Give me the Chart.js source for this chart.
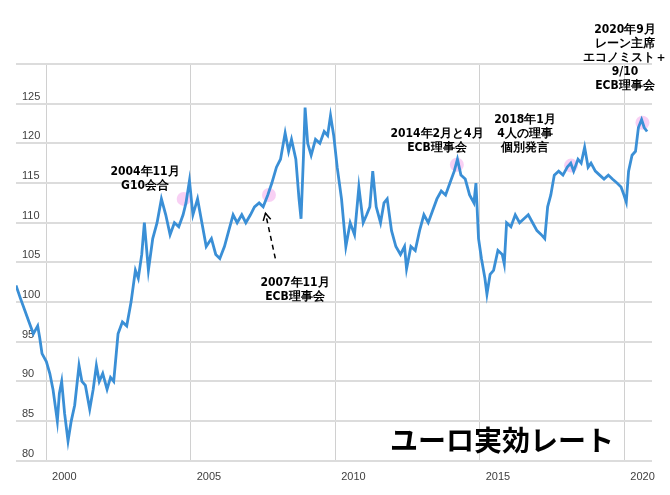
<!DOCTYPE html>
<html><head><meta charset="utf-8">
<script src="https://cdn.jsdelivr.net/npm/chart.js@4"></script>
<style>html,body{margin:0;padding:0;background:#fff}#w{width:670px;height:495px}</style>
</head><body><div id="w"><canvas id="c"></canvas></div>
<script>
const years=[1998.95,1999.1,1999.25,1999.4,1999.55,1999.7,1999.77,1999.85,2000.0,2000.12,2000.23,2000.38,2000.45,2000.53,2000.63,2000.75,2000.86,2000.98,2001.13,2001.23,2001.35,2001.5,2001.62,2001.73,2001.83,2001.95,2002.1,2002.22,2002.33,2002.48,2002.63,2002.78,2002.93,2003.08,2003.18,2003.3,2003.39,2003.53,2003.68,2003.83,2003.98,2004.13,2004.28,2004.43,2004.58,2004.73,2004.83,2004.95,2005.07,2005.23,2005.38,2005.53,2005.71,2005.86,2006.0,2006.16,2006.31,2006.46,2006.6,2006.76,2006.9,2007.06,2007.2,2007.36,2007.5,2007.66,2007.8,2007.96,2008.1,2008.26,2008.38,2008.48,2008.63,2008.74,2008.81,2008.89,2008.95,2009.04,2009.16,2009.31,2009.46,2009.61,2009.73,2009.83,2009.94,2010.06,2010.21,2010.36,2010.51,2010.66,2010.81,2010.96,2011.08,2011.19,2011.29,2011.41,2011.56,2011.68,2011.79,2011.94,2012.09,2012.25,2012.39,2012.46,2012.61,2012.76,2012.91,2013.06,2013.21,2013.36,2013.51,2013.66,2013.81,2013.96,2014.11,2014.22,2014.34,2014.49,2014.64,2014.79,2014.86,2014.95,2015.05,2015.17,2015.24,2015.35,2015.47,2015.62,2015.77,2015.84,2015.92,2016.07,2016.22,2016.37,2016.52,2016.67,2016.82,2016.97,2017.12,2017.24,2017.34,2017.45,2017.57,2017.72,2017.87,2018.02,2018.14,2018.24,2018.39,2018.5,2018.62,2018.74,2018.84,2018.99,2019.14,2019.29,2019.44,2019.58,2019.74,2019.88,2019.98,2020.06,2020.14,2020.26,2020.38,2020.48,2020.59,2020.68,2020.78];
const rates=[102.1,100.5,99,97.5,96,97,95.5,93.5,92.5,91,89,85,88.5,90,86,82.5,85,87,92,90,89.5,86.5,89,92,90,91,89,90.5,90,96,97.5,97,100,104,103,106,110,104,108,110,113,111,108.5,110,109.5,111,112.5,115.3,111,113,110,107,108,106,105.5,107,109,111,110,111,110,111,112,112.5,112,113.5,115,117,118,121.3,119,120.5,118,113,110.5,118,124.5,120,118.5,120.5,120,121.5,121,123.5,121,117,113,107,110,108.5,114.5,110,111,112,116.5,112,110,112.5,113,109,107,106,107,104.2,107,106.5,109,111,110,111.5,113,114,113.5,115,116.5,118,116,115.5,113.5,112.5,115,108,105.5,103,101,103.5,104,106.5,106,104.8,110,109.5,111,110,110.5,111,110,109,108.5,108,112,113.5,116,116.5,116,117,117.5,116.5,118,117.5,119.5,117,117.5,116.5,116,115.5,116,115.5,115,114.5,113.5,112.6,116.5,118.5,119,122,123,122,121.5];
const markYears=[2004.75,2007.7,2014.2,2018.15,2020.62];
const markRates=[113,113.5,117.3,117.2,122.6];
const yTicks=[80,85,90,95,100,105,110,115,120,125,130];
const xTicks=[2000,2005,2010,2015,2020];
const notes=[
 {x:145,y:172,lines:["2004年11月","G10会合"]},
 {x:295,y:283,lines:["2007年11月","ECB理事会"]},
 {x:437,y:134,lines:["2014年2月と4月","ECB理事会"]},
 {x:525,y:120,lines:["2018年1月","4人の理事","個別発言"]},
 {x:625,y:30,lines:["2020年9月","レーン主席","エコノミスト＋","9/10","ECB理事会"]}
];
const deco={id:'deco',afterDatasetsDraw(ch){
 const c=ch.ctx,xs=ch.scales.x,ys=ch.scales.y;
 c.save();
 c.font='bold 12px "Liberation Sans Narrow","DejaVu Sans Condensed",sans-serif';
 c.fillStyle='#000';c.textAlign='center';c.textBaseline='middle';
 notes.forEach(n=>n.lines.forEach((l,i)=>c.fillText(l,n.x,n.y+i*14)));
 c.setLineDash([5,4]);c.lineWidth=1.5;c.strokeStyle='#000';
 const x1=xs.getPixelForValue(2007.92),y1=ys.getPixelForValue(105.5),x2=xs.getPixelForValue(2007.58),y2=ys.getPixelForValue(111.2);
 c.beginPath();c.moveTo(x1,y1);c.lineTo(x2,y2);c.stroke();c.setLineDash([]);
 const a=Math.atan2(y2-y1,x2-x1);
 c.beginPath();c.moveTo(x2-8*Math.cos(a-0.5),y2-8*Math.sin(a-0.5));c.lineTo(x2,y2);c.lineTo(x2-8*Math.cos(a+0.5),y2-8*Math.sin(a+0.5));c.stroke();
 c.font='bold 28px "Noto Sans CJK JP",sans-serif';c.textAlign='left';
 c.fillText('ユーロ実効レート',390,440);
 c.restore();}};
new Chart(document.getElementById('c'),{
 type:'line',
 data:{datasets:[
  {type:'scatter',data:markYears.map((x,i)=>({x,y:markRates[i]})),pointRadius:7,pointBackgroundColor:'rgba(240,150,230,0.45)',pointBorderWidth:0,order:2},
  {data:years.map((x,i)=>({x,y:rates[i]})),borderColor:'#3a8fd6',borderWidth:2.8,pointRadius:0,tension:0,order:1}
 ]},
 options:{responsive:true,maintainAspectRatio:false,animation:false,
  layout:{padding:{left:4,right:18,top:64,bottom:1}},
  plugins:{legend:{display:false},tooltip:{enabled:false}},
  scales:{
   x:{type:'linear',min:1998.95,max:2020.95,
    afterBuildTicks:a=>{a.ticks=xTicks.map(v=>({value:v}))},
    grid:{color:'#d0d0d0',lineWidth:1,drawTicks:false},border:{display:false},
    ticks:{color:'#404040',font:{size:11,family:'Liberation Sans'},padding:10,labelOffset:18,callback:v=>v}},
   y:{min:80,max:130,
    afterBuildTicks:a=>{a.ticks=yTicks.map(v=>({value:v}))},
    grid:{color:'#dcdcdc',lineWidth:2,drawTicks:false},border:{display:false},
    ticks:{mirror:true,padding:6,labelOffset:-7,color:'#404040',font:{size:11,family:'Liberation Sans'},callback:v=>v===130?'':v}}
  }},
 plugins:[deco]});
</script></body></html>
